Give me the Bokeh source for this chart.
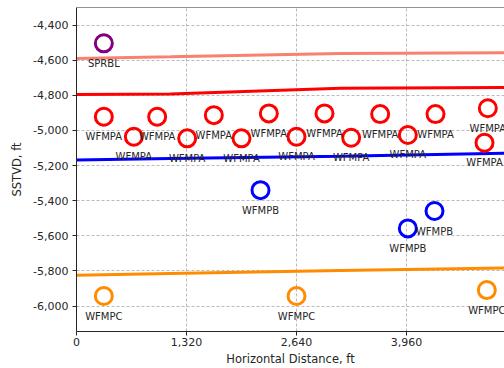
from bokeh.plotting import figure
from bokeh.models import (ColumnDataSource, FixedTicker, NumeralTickFormatter,
                          Span, Range1d)
from bokeh.core.properties import value
from bokeh.embed import file_html
from bokeh.resources import INLINE

# Formation top surfaces (horizontal distance ft, SSTVD ft)
surf_x = [0, 1128, 3168, 5136]
sprbl_surf = [-4590, -4581, -4562, -4558]
wfmpa_surf = [-4795, -4792, -4760, -4755]
wfmpb_surf = [-5169, -5160, -5147, -5130]
wfmpc_surf = [-5824, -5815, -5798, -5784]

# Picks along the wellbore
sprbl_x = [328]
sprbl_y = [-4504]

wfmpa_x = [328, 688, 968, 1328, 1648, 1980, 2308, 2640, 2976, 3296, 3644,
           3976, 4308, 4936, 4896]
wfmpa_y = [-4922, -5036, -4922, -5045, -4913, -5045, -4903, -5036, -4903,
           -5042, -4907, -5026, -4907, -4874, -5070]

wfmpb_x = [2208, 3976, 4296]
wfmpb_y = [-5340, -5558, -5459]

wfmpc_x = [328, 2640, 4924]
wfmpc_y = [-5943, -5943, -5909]

x_ticks = [0, 1320, 2640, 3960, 5280]
y_ticks = [-6000, -5800, -5600, -5400, -5200, -5000, -4800, -4600, -4400]

FONT = "DejaVu Sans"
INK = "#262626"

p = figure(width=504, height=368, output_backend="svg", toolbar_location=None,
           x_range=Range1d(0, 5136), y_range=Range1d(-6145, -4300),
           min_border_left=76, min_border_right=0, min_border_top=7,
           min_border_bottom=37)
p.outline_line_color = None
p.background_fill_color = "white"
p.border_fill_color = "white"

# surfaces
p.line(surf_x, sprbl_surf, line_color="#fa8072", line_width=3)
p.line(surf_x, wfmpa_surf, line_color="#ff0000", line_width=3)
p.line(surf_x, wfmpb_surf, line_color="#0000ff", line_width=3)
p.line(surf_x, wfmpc_surf, line_color="#ff8c00", line_width=3)

groups = [
    ("SPRBL", sprbl_x, sprbl_y, "#800080"),
    ("WFMPA", wfmpa_x, wfmpa_y, "#ff0000"),
    ("WFMPB", wfmpb_x, wfmpb_y, "#0000ff"),
    ("WFMPC", wfmpc_x, wfmpc_y, "#ff8c00"),
]
for name, xs, ys, color in groups:
    src = ColumnDataSource(dict(x=xs, y=ys, t=[name] * len(xs)))
    p.scatter("x", "y", source=src, marker="circle", size=17,
              fill_color=None, line_color=color, line_width=3)
    p.text("x", "y", text="t", source=src, text_font=value(FONT),
           text_font_size="10px", text_color=INK, text_align="center",
           text_baseline="middle", y_offset=20)

# top spine
p.add_layout(Span(location=-4300, dimension="width", line_color=INK,
                  line_width=1))

p.xaxis.ticker = FixedTicker(ticks=x_ticks)
p.yaxis.ticker = FixedTicker(ticks=y_ticks)
p.xaxis.formatter = NumeralTickFormatter(format="0,0")
p.yaxis.formatter = NumeralTickFormatter(format="0,0")
p.xaxis.axis_label = "Horizontal Distance, ft"
p.yaxis.axis_label = "SSTVD, ft"

for ax in (p.xaxis, p.yaxis):
    ax.axis_line_color = INK
    ax.major_tick_line_color = INK
    ax.minor_tick_line_color = None
    ax.major_tick_out = 4
    ax.major_tick_in = 0
    ax.major_label_text_font = FONT
    ax.major_label_text_font_size = "11px"
    ax.major_label_text_color = INK
    ax.axis_label_text_font = FONT
    ax.axis_label_text_font_size = "11.5px"
    ax.axis_label_text_font_style = "normal"
    ax.axis_label_text_color = INK

p.xaxis.major_label_standoff = 2
p.xaxis.axis_label_standoff = 3
p.yaxis.major_label_standoff = 4
p.yaxis.axis_label_standoff = 6

p.grid.grid_line_color = "#a8a8a8"
p.grid.grid_line_dash = "3 2"
p.grid.grid_line_width = 0.8

open("out.html", "w").write(file_html(p, INLINE))
